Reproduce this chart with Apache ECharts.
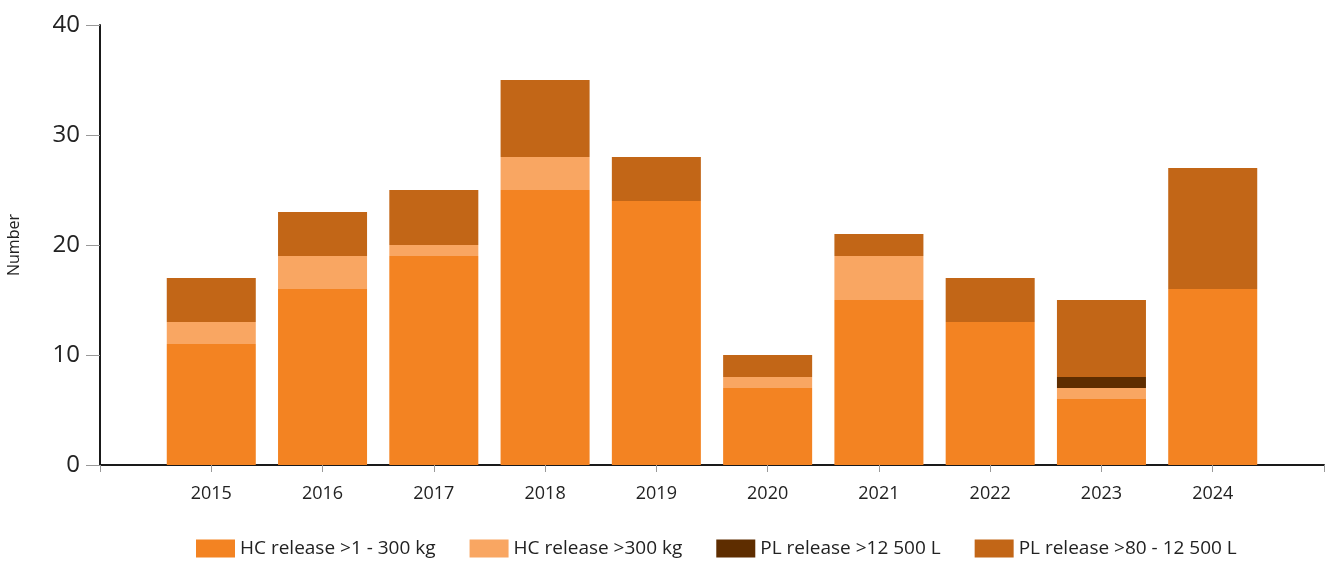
<!DOCTYPE html>
<html>
<head>
<meta charset="utf-8">
<script src="https://cdn.jsdelivr.net/npm/echarts@6/dist/echarts.min.js"></script>
<style>
html,body{margin:0;padding:0;background:#fff;}
#chart{width:1325px;height:562px;}
</style>
</head>
<body>
<div id="chart"></div>
<script>
// categories (empty padding slots at both ends of the axis)
const categories = ['', '2015', '2016', '2017', '2018', '2019', '2020', '2021', '2022', '2023', '2024', ''];
const hcSmall = [null, 11, 16, 19, 25, 24, 7, 15, 13, 6, 16, null];
const hcLarge = [null, 2, 3, 1, 3, 0, 1, 4, 0, 1, 0, null];
const plLarge = [null, 0, 0, 0, 0, 0, 0, 0, 0, 1, 0, null];
const plSmall = [null, 4, 4, 5, 7, 4, 2, 2, 4, 7, 11, null];
const seriesNames = ['HC release >1 - 300 kg', 'HC release >300 kg', 'PL release >12 500 L', 'PL release >80 - 12 500 L'];
const yTicks = [0, 10, 20, 30, 40];

const colors = ['#F38322', '#F9A662', '#5E2D00', '#C26617'];
const font = 'Open Sans';
const chart = echarts.init(document.getElementById('chart'));
const dataSets = [hcSmall, hcLarge, plLarge, plSmall];

chart.setOption({
  animation: false,
  color: colors,
  textStyle: {fontFamily: font},
  grid: {left: 100, right: 1, top: 25, bottom: 97, containLabel: false, outerBoundsMode: 'none'},
  legend: {
    left: 191, top: 534,
    itemWidth: 39, itemHeight: 18, itemGap: 34,
    icon: 'rect',
    textStyle: {fontFamily: font, fontSize: 19, color: '#222'},
    data: seriesNames
  },
  xAxis: {
    type: 'category',
    data: categories,
    boundaryGap: false,
    axisLine: {lineStyle: {color: '#1a1a1a', width: 2}},
    axisTick: {show: true, length: 7, lineStyle: {color: '#999', width: 1}},
    axisLabel: {fontFamily: font, fontSize: 18, color: '#222', margin: 20, interval: 0}
  },
  yAxis: {
    type: 'value',
    min: yTicks[0], max: yTicks[yTicks.length - 1], interval: 10,
    name: 'Number',
    nameLocation: 'middle',
    nameGap: 78,
    nameTextStyle: {fontFamily: font, fontSize: 16, color: '#222'},
    axisLine: {show: true, lineStyle: {color: '#1a1a1a', width: 2}},
    axisTick: {show: true, length: 14, lineStyle: {color: '#999', width: 1}},
    axisLabel: {fontFamily: font, fontSize: 24, color: '#222', margin: 20},
    splitLine: {show: false}
  },
  series: seriesNames.map((n, i) => ({
    name: n,
    type: 'bar',
    stack: 'total',
    barWidth: '80%',
    data: dataSets[i],
    itemStyle: {color: colors[i]}
  }))
});
</script>
</body>
</html>
